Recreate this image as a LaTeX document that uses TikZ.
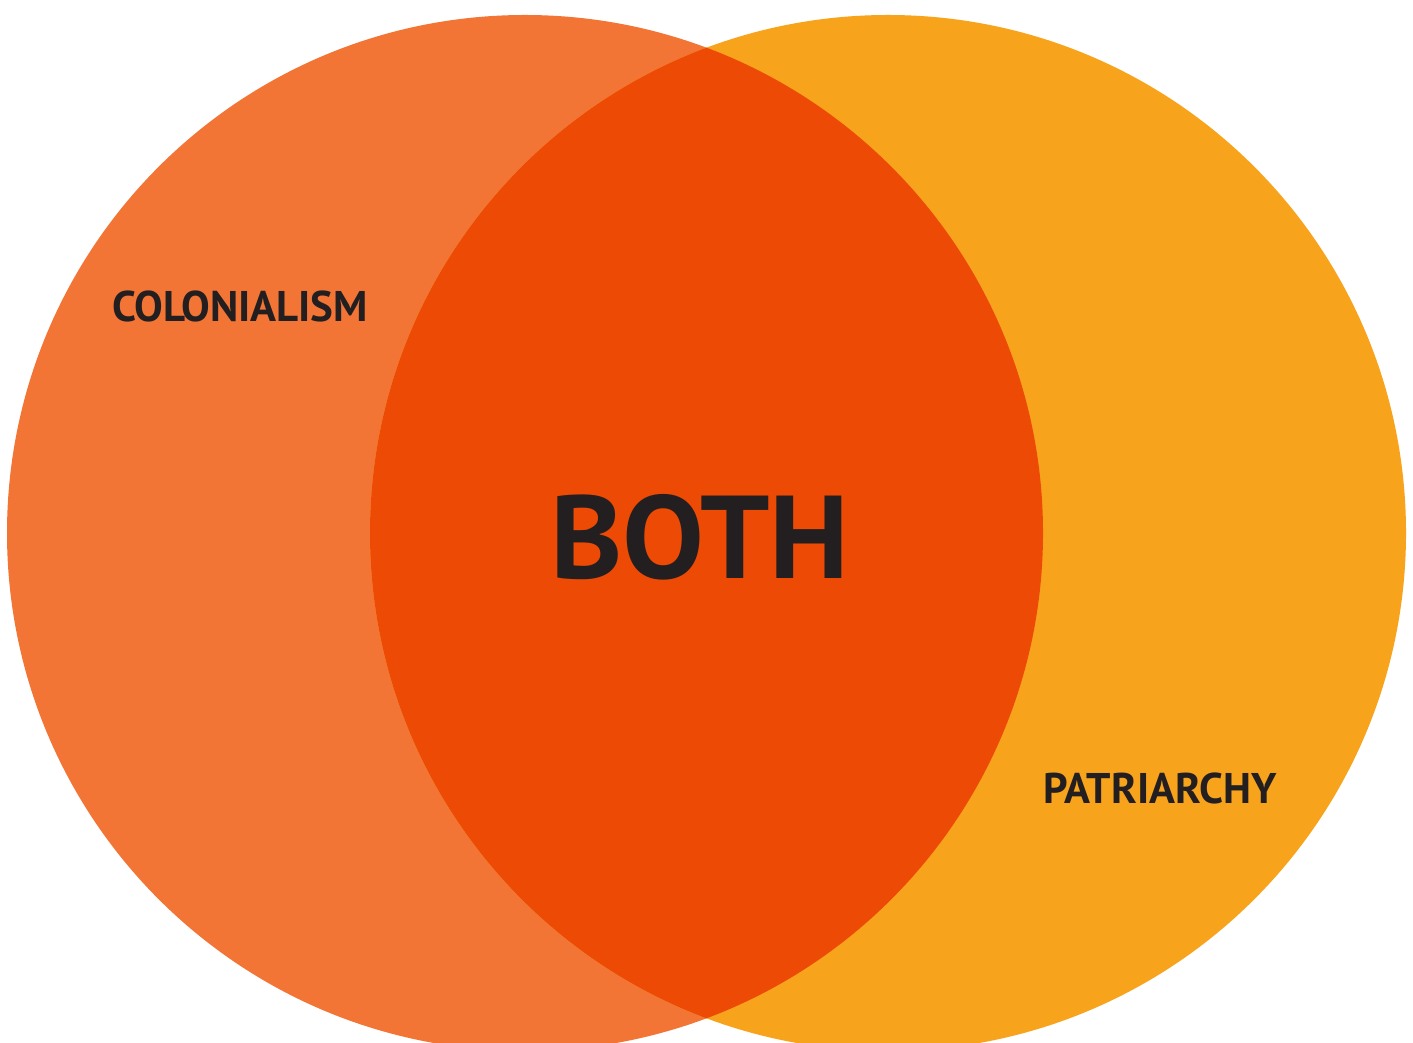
\documentclass[tikz,border=0pt]{standalone}
\usepackage{fontspec}
\setmainfont{PT Sans}
\usepackage{tikz}

\definecolor{colonial}{HTML}{F27536}
\definecolor{patriarch}{HTML}{F8A31C}
\definecolor{overlap}{HTML}{EC4A05}
\definecolor{ink}{HTML}{231F20}

\tikzset{
  label/.style={text=ink, font=\bfseries\fontsize{12.2}{14}\selectfont, inner sep=0pt},
  biglabel/.style={text=ink, font=\bfseries\fontsize{33.5}{38}\selectfont, inner sep=0pt}
}

\begin{document}
\begin{tikzpicture}[x=0.01cm, y=0.01cm]

\useasboundingbox (0,0) rectangle (1413,1042);
\clip (0,0) rectangle (1413,1042);

% Colonialism circle
\fill[colonial] (525,509) circle (518);

% Patriarchy circle
\fill[patriarch] (888,509) circle (518);

% Overlap
\begin{scope}
  \clip (525,509) circle (518);
  \fill[overlap] (888,509) circle (518);
\end{scope}

\node[label] (colonialism) at (240,736) {COLONIALISM};
\node[label] (patriarchy) at (1160,254) {PATRIARCHY};
\node[biglabel, xscale=1.04] (both) at (700,505) {BOTH};

\end{tikzpicture}
\end{document}
